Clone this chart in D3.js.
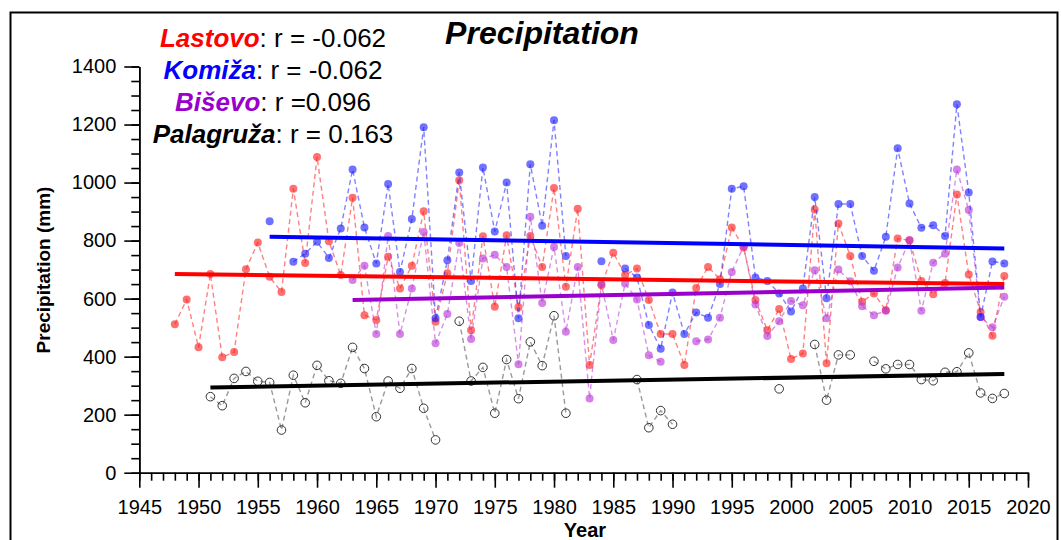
<!DOCTYPE html>
<html>
<head>
<meta charset="utf-8">
<style>
body { margin: 0; background: #fff; }
text { font-family: "Liberation Sans", Arial, sans-serif; }
</style>
</head>
<body>
<div id="diagram"></div>
<script src="https://cdn.jsdelivr.net/npm/d3@7"></script>
<script>

// yearly precipitation (mm); null = no data
var lastovo_years = d3.range( 1948, 2019 );
var lastovo = [ 512, 597, 432, 685, 398, 416, 701, 793, 675, 623,
	979, 723, 1088, 798, 681, 948, 543, 526, 744, 635,
	713, 901, 520, 687, 1008, 491, 815, 572, 818, 570,
	816, 709, 981, 641, 910, 371, 646, 758, 681, 704,
	595, 478, 478, 371, 637, 709, 667, 845, 776, 595,
	491, 564, 392, 411, 907, 377, 859, 747, 589, 618,
	560, 807, 801, 661, 615, 654, 959, 683, 554, 472, 678 ];

var komiza_years = d3.range( 1956, 2019 );
var komiza = [ 867, null, 727, 755, 796, 740, 842, 1045, 845, 721,
	995, 692, 874, 1191, 532, 732, 1035, 661, 1052, 831,
	1000, 532, 1063, 851, 1215, 747, null, null, 729, null,
	704, 673, 509, 427, 621, 478, 552, 534, 650, 979,
	987, 673, 661, 618, 556, 635, 950, 601, 926, 926,
	747, 696, 813, 1118, 928, 844, 853, 816, 1270, 966,
	537, 728, 721 ];

var bisevo_years = d3.range( 1963, 2019 );
var bisevo = [ 664, 713, 478, 816, 478, 635, 830, 446, 547, 792,
	461, 738, 751, 709, 374, 882, 585, 778, 486, 709,
	256, 650, 457, 652, 597, 405, 382, null, null, 453,
	459, 534, 692, 780, 580, 471, 522, 592, 577, 698,
	532, 700, 660, 574, 543, 558, 707, 801, 558, 724,
	755, 1045, 905, 537, 501, 606 ];

var palagruza_years = d3.range( 1951, 2019 );
var palagruza = [ 262, 231, 325, 349, 315, 311, 147, 336, 241, 370,
	317, 308, 432, 359, 193, 316, 291, 359, 222, 113,
	null, 522, 316, 363, 205, 390, 255, 451, 369, 541,
	205, null, null, null, null, null, 321, 155, 214, 167,
	null, null, null, null, null, null, null, null, 289, null,
	null, 442, 250, 406, 406, null, 384, 358, 373, 373,
	321, 317, 346, 348, 413, 275, 256, 273 ];

// linear trends: [start year, start value, end year, end value]
var trend_lastovo = [ 1948, 685, 2018, 650 ];
var trend_komiza = [ 1956, 813, 2018, 773 ];
var trend_bisevo = [ 1963, 595, 2018, 638 ];
var trend_palagruza = [ 1951, 294, 2018, 340 ];

var legend_names = [ 'Lastovo', 'Komiža', 'Biševo', 'Palagruža' ];
var legend_r = [ ': r = -0.062', ': r = -0.062', ': r =0.096', ': r = 0.163' ];
var legend_colors = [ '#ff0000', '#0000ff', '#9900cc', '#000000' ];

var canvas_size = { width: 1061, height: 540 };

var svg = d3.select( '#diagram' )
	.append( 'svg' )
		.attr( 'width', canvas_size.width )
		.attr( 'height', canvas_size.height );

// frame
svg.append( 'rect' )
	.attr( 'x', 10.5 ).attr( 'y', 12.5 )
	.attr( 'width', 1047 ).attr( 'height', 600 )
	.attr( 'fill', 'none' )
	.attr( 'stroke', '#000' )
	.attr( 'stroke-width', 2 );

var x = d3.scaleLinear().domain( [1945, 2020] ).range( [139.3, 1028] );
var y = d3.scaleLinear().domain( [0, 1400] ).range( [472.7, 66.5] );

function style_axis( g, labels )
{
	g.selectAll( 'path, line' ).attr( 'stroke', '#000' ).attr( 'stroke-width', 1.6 );
	g.selectAll( 'text' ).attr( 'font-size', 20 ).attr( 'fill', '#000' )
		.attr( 'font-family', '"Liberation Sans", Arial, sans-serif' );
	if( !labels ) g.selectAll( 'text' ).remove();
}

// minor + major ticks
svg.append( 'g' )
	.attr( 'transform', 'translate(' + x.range()[0] + ',0)' )
	.call( d3.axisLeft( y ).tickValues( d3.range( 0, 1401, 50 ) ).tickSize( 8 ).tickSizeOuter( 0 ) )
	.call( style_axis, false );
svg.append( 'g' )
	.attr( 'transform', 'translate(' + x.range()[0] + ',0)' )
	.call( d3.axisLeft( y ).tickValues( d3.range( 0, 1401, 200 ) ).tickSize( 15 ).tickSizeOuter( 0 ).tickPadding( 8 ).tickFormat( d3.format( 'd' ) ) )
	.call( style_axis, true );

svg.append( 'g' )
	.attr( 'transform', 'translate(0,' + y.range()[0] + ')' )
	.call( d3.axisBottom( x ).tickValues( d3.range( 1945, 2021, 1 ) ).tickSize( 8 ).tickSizeOuter( 0 ) )
	.call( style_axis, false );
svg.append( 'g' )
	.attr( 'transform', 'translate(0,' + y.range()[0] + ')' )
	.call( d3.axisBottom( x ).tickValues( d3.range( 1945, 2021, 5 ) ).tickSize( 15 ).tickSizeOuter( 0 ).tickPadding( 12 ).tickFormat( d3.format( 'd' ) ) )
	.call( style_axis, true );

// axis titles
svg.append( 'text' )
	.attr( 'x', 585 ).attr( 'y', 537 )
	.attr( 'text-anchor', 'middle' )
	.attr( 'font-size', 20 ).attr( 'font-weight', 'bold' )
	.text( 'Year' );

svg.append( 'text' )
	.attr( 'transform', 'translate(50,270) rotate(-90)' )
	.attr( 'text-anchor', 'middle' )
	.attr( 'font-size', 19 ).attr( 'font-weight', 'bold' )
	.text( 'Precipitation (mm)' );

svg.append( 'text' )
	.attr( 'x', 542 ).attr( 'y', 44 )
	.attr( 'text-anchor', 'middle' )
	.attr( 'font-size', 32 ).attr( 'font-weight', 'bold' ).attr( 'font-style', 'italic' )
	.text( 'Precipitation' );

// series
function draw_series( years, values, col, hollow )
{
	var data = years.map( function( yr, i ) { return { year: yr, v: values[i] }; } );
	var line = d3.line()
		.defined( function( d ) { return d.v != null; } )
		.x( function( d ) { return x( d.year ); } )
		.y( function( d ) { return y( d.v ); } );

	var g = svg.append( 'g' );
	g.append( 'path' )
		.datum( data )
		.attr( 'd', line )
		.attr( 'fill', 'none' )
		.attr( 'stroke', col )
		.attr( 'stroke-opacity', hollow ? 0.6 : 0.55 )
		.attr( 'stroke-width', 1.4 )
		.attr( 'stroke-dasharray', '5,3.5' );

	g.selectAll( 'circle' )
		.data( data.filter( function( d ) { return d.v != null; } ) )
		.enter().append( 'circle' )
			.attr( 'cx', function( d ) { return x( d.year ); } )
			.attr( 'cy', function( d ) { return y( d.v ); } )
			.attr( 'r', hollow ? 4.3 : 4 )
			.attr( 'fill', hollow ? '#fff' : col )
			.attr( 'fill-opacity', hollow ? 0 : 0.62 )
			.attr( 'stroke', hollow ? '#333' : 'none' )
			.attr( 'stroke-width', 1 );
}

draw_series( palagruza_years, palagruza, '#555555', true );
draw_series( lastovo_years, lastovo, '#ff1a1a', false );
draw_series( bisevo_years, bisevo, '#b833d6', false );
draw_series( komiza_years, komiza, '#1a1aff', false );

// trend lines
[ [trend_lastovo, '#ff0000'], [trend_komiza, '#0000ff'], [trend_bisevo, '#9900cc'], [trend_palagruza, '#000000'] ]
	.forEach( function( t )
	{
		svg.append( 'line' )
			.attr( 'x1', x( t[0][0] ) ).attr( 'y1', y( t[0][1] ) )
			.attr( 'x2', x( t[0][2] ) ).attr( 'y2', y( t[0][3] ) )
			.attr( 'stroke', t[1] )
			.attr( 'stroke-width', 4 );
	});

// legend
legend_names.forEach( function( name, i )
{
	var t = svg.append( 'text' )
		.attr( 'x', 273 ).attr( 'y', 47 + i * 32 )
		.attr( 'text-anchor', 'middle' )
		.attr( 'font-size', 26 );
	t.append( 'tspan' )
		.attr( 'font-weight', 'bold' ).attr( 'font-style', 'italic' )
		.attr( 'fill', legend_colors[i] )
		.text( name );
	t.append( 'tspan' )
		.attr( 'fill', '#000' )
		.text( legend_r[i] );
});

</script>
</body>
</html>
